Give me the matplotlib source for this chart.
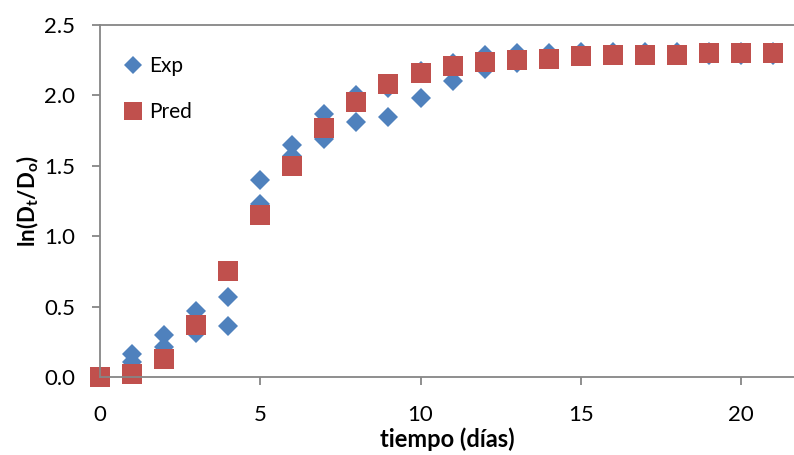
import matplotlib
matplotlib.use("Agg")
import matplotlib.pyplot as plt

plt.rcParams['font.family'] = ['Lato', 'DejaVu Sans']
plt.rcParams['mathtext.fontset'] = 'custom'
plt.rcParams['mathtext.rm'] = 'Lato'
plt.rcParams['mathtext.bf'] = 'Lato:bold'

days = list(range(22))
exp_a = [0.00, 0.16, 0.30, 0.47, 0.57, 1.40, 1.65, 1.87, 2.00, 2.05, 2.17, 2.23, 2.29, 2.30,
         2.30, 2.31, 2.31, 2.31, 2.31, 2.31, 2.31, 2.31]
exp_b = [0.00, 0.11, 0.21, 0.31, 0.36, 1.23, 1.57, 1.69, 1.81, 1.85, 1.98, 2.10, 2.19, 2.23,
         2.26, 2.28, 2.29, 2.29, 2.29, 2.29, 2.29, 2.29]
pred = [0.00, 0.02, 0.13, 0.37, 0.75, 1.15, 1.50, 1.77, 1.95, 2.08, 2.16, 2.21, 2.24, 2.25,
        2.26, 2.28, 2.29, 2.29, 2.29, 2.30, 2.30, 2.30]
x_ticks = [0, 5, 10, 15, 20]
y_ticks = [0.0, 0.5, 1.0, 1.5, 2.0, 2.5]

blue = '#4F81BD'
red = '#C0504D'
gray = '#868686'

fig = plt.figure(figsize=(7.94, 4.55), dpi=100)
ax = fig.add_axes([100/794, 1 - 377/455, 694/794, (377 - 25)/455])

ax.plot(days + days, exp_a + exp_b, linestyle='none', marker='D', markersize=10.5,
        color=blue, markeredgewidth=0, label='Exp', clip_on=False)
ax.plot(days, pred, linestyle='none', marker='s', markersize=15,
        color=red, markeredgewidth=0, label='Pred', clip_on=False)

ax.set_xlim(0, 694/32.05)
ax.set_ylim(0, 2.5)
ax.set_xticks(x_ticks)
ax.set_yticks(y_ticks)
ax.set_yticklabels([f'{v:.1f}' for v in y_ticks])

for s in ['left', 'bottom', 'top']:
    ax.spines[s].set_color(gray)
    ax.spines[s].set_linewidth(1.3)
ax.spines['right'].set_visible(False)

ax.tick_params(axis='both', colors=gray, length=6, width=1.3, labelsize=16,
               labelcolor='black', direction='out')
ax.tick_params(axis='y', pad=12)
ax.tick_params(axis='x', pad=14)

ax.set_xlabel('tiempo (días)', fontsize=17, fontweight='bold', labelpad=2)
ax.set_ylabel(r'$\mathbf{ln(D_{t}/D_{o})}$', fontsize=16, labelpad=2)

ax.legend(loc='upper left', bbox_to_anchor=(0.02, 0.935), frameon=False, fontsize=15,
          handlelength=1.0, handletextpad=0.3, labelspacing=1.25, borderaxespad=0,
          markerscale=0.87)

fig.savefig('out.png', dpi=100)
